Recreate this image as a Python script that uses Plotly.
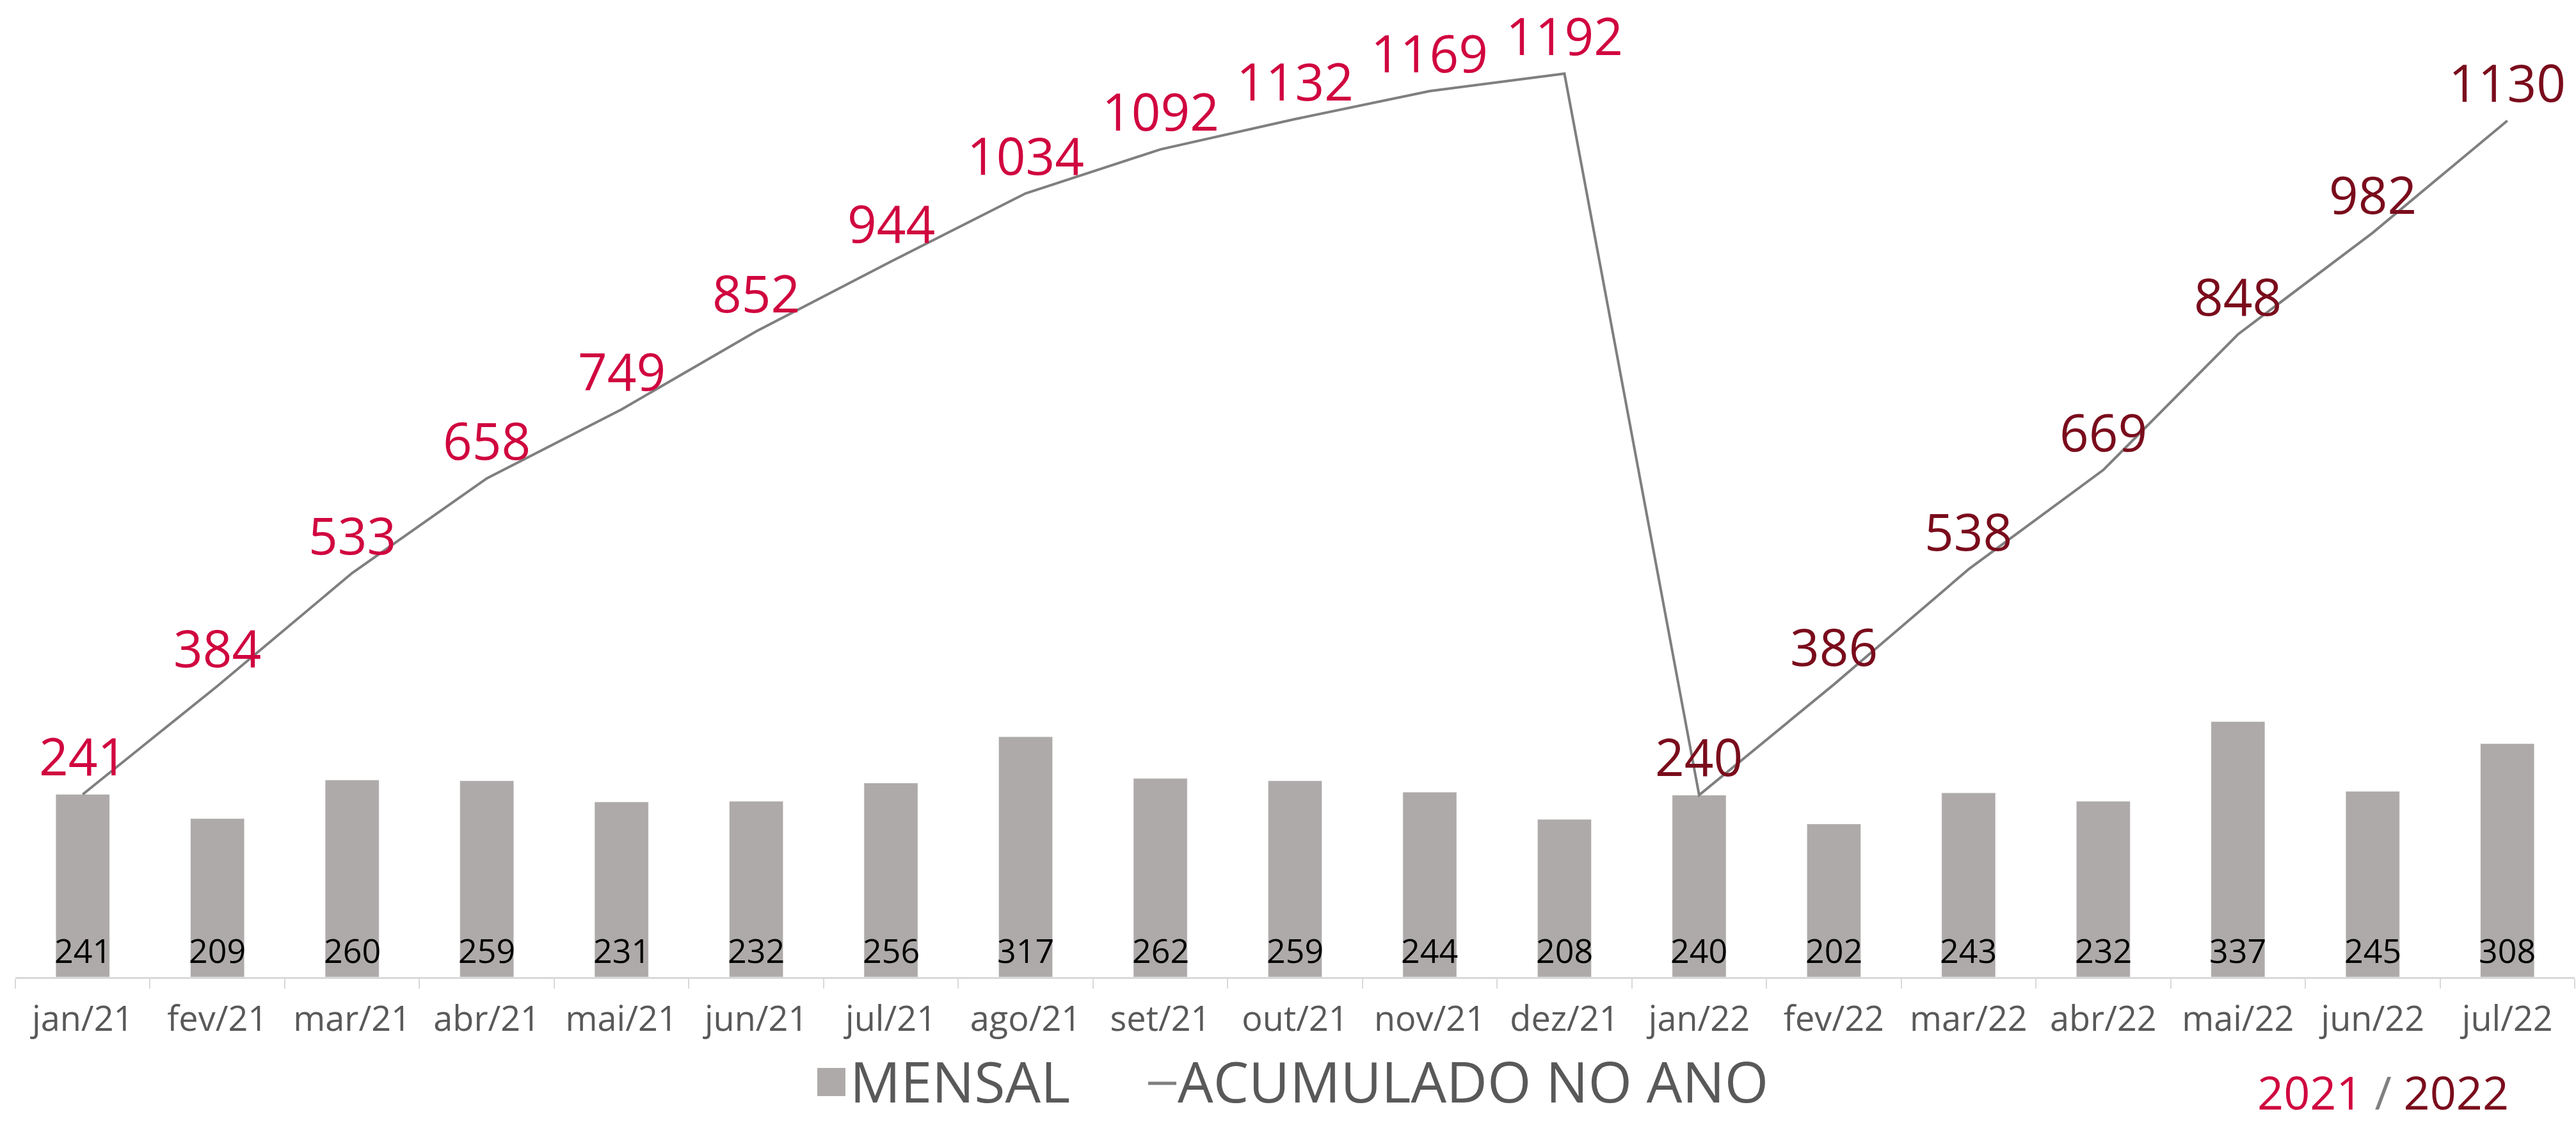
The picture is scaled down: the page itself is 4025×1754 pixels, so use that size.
import plotly.graph_objects as go

# dados
meses = ["jan/21", "fev/21", "mar/21", "abr/21", "mai/21", "jun/21", "jul/21", "ago/21",
         "set/21", "out/21", "nov/21", "dez/21", "jan/22", "fev/22", "mar/22", "abr/22",
         "mai/22", "jun/22", "jul/22"]
mensal = [241, 209, 260, 259, 231, 232, 256, 317, 262, 259, 244, 208,
          240, 202, 243, 232, 337, 245, 308]
acumulado = [241, 384, 533, 658, 749, 852, 944, 1034, 1092, 1132, 1169, 1192,
             240, 386, 538, 669, 848, 982, 1130]
anos = ["2021"] * 12 + ["2022"] * 7

COR_2021 = "#D0053F"
COR_2022 = "#7A0C1C"
COR_BARRA = "#AEAAAA"
COR_LINHA = "#7F7F7F"
COR_TEXTO = "#595959"
FONTE = "Open Sans"

LARG, ALT = 4025, 1754
L, R, B = 24, 2, 228
W, H_PLOT = LARG - L - R, ALT - B

fig = go.Figure()
fig.add_trace(go.Bar(x=meses, y=mensal, name="MENSAL", marker_color=COR_BARRA,
                     showlegend=False, hoverinfo="skip"))
fig.add_trace(go.Scatter(x=meses, y=acumulado, name="ACUMULADO NO ANO", mode="lines",
                         line=dict(color=COR_LINHA, width=4), showlegend=False))

# rotulos da linha acumulada
for m, v, a in zip(meses, acumulado, anos):
    fig.add_annotation(x=m, y=v, text=str(v), showarrow=False, yanchor="middle", yshift=61,
                       font=dict(family=FONTE, size=80, color=COR_2021 if a == "2021" else COR_2022))

# rotulos das barras
for m, v in zip(meses, mensal):
    fig.add_annotation(x=m, y=0, text=str(v), showarrow=False, yanchor="middle", yshift=43,
                       font=dict(family=FONTE, size=52, color="black"))

# legenda manual (pixels -> papel)
def px_x(p):
    return (p - L) / W

def px_y(p):
    return (H_PLOT - p) / H_PLOT

fig.add_shape(type="rect", xref="paper", yref="paper", x0=px_x(1277), x1=px_x(1321),
              y0=px_y(1712), y1=px_y(1668), fillcolor=COR_BARRA, line_width=0)
fig.add_annotation(xref="paper", yref="paper", x=px_x(1326), y=px_y(1688), xanchor="left",
                   yanchor="middle", text="MENSAL", showarrow=False,
                   font=dict(family=FONTE, size=88, color=COR_TEXTO))
fig.add_shape(type="line", xref="paper", yref="paper", x0=px_x(1794), x1=px_x(1838),
              y0=px_y(1692), y1=px_y(1692), line=dict(color=COR_LINHA, width=5))
fig.add_annotation(xref="paper", yref="paper", x=px_x(1838), y=px_y(1688), xanchor="left",
                   yanchor="middle", text="ACUMULADO NO ANO", showarrow=False,
                   font=dict(family=FONTE, size=88, color=COR_TEXTO))

fig.add_annotation(xref="paper", yref="paper", x=px_x(3922), y=px_y(1705), xanchor="right",
                   yanchor="middle", showarrow=False,
                   text=f"<span style='color:{COR_2021}'>2021</span>"
                        f"<span style='color:#808080'> / </span>"
                        f"<span style='color:{COR_2022}'>2022</span>",
                   font=dict(family=FONTE, size=72))

fig.update_xaxes(showline=True, linecolor="#D9D9D9", linewidth=3, ticks="outside",
                 tickson="boundaries", ticklen=15, tickcolor="#D9D9D9", tickwidth=2,
                 showgrid=False, tickfont=dict(family=FONTE, size=54, color=COR_TEXTO),
                 ticklabelstandoff=16)
fig.update_yaxes(range=[0, H_PLOT / 1.1837], visible=False, showgrid=False)
fig.update_layout(width=LARG, height=ALT, template="plotly_white", bargap=0.6,
                  margin=dict(l=L, r=R, t=0, b=B),
                  plot_bgcolor="white", paper_bgcolor="white", showlegend=False)
# sem margem no body, a figura ocupa a janela toda
fig.write_html("out.html", config={"displayModeBar": False},
               post_script="document.body.style.margin = '0';")
